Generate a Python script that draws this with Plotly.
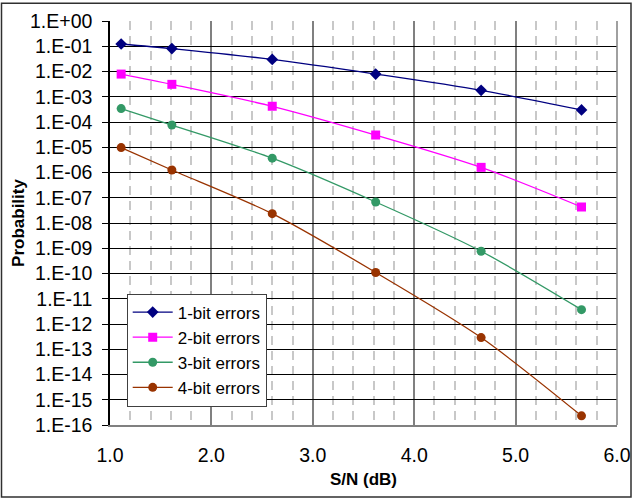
import plotly.graph_objects as go

# ---- data ----
snr_db = [1.11, 1.61, 2.60, 3.62, 4.66, 5.65]

series_names = ["1-bit errors", "2-bit errors", "3-bit errors", "4-bit errors"]
p_1bit = [1.23e-1, 8.1e-2, 3.0e-2, 7.9e-3, 1.8e-3, 3.0e-4]
p_2bit = [7.9e-3, 3.1e-3, 4.2e-4, 3.05e-5, 1.6e-6, 4.3e-8]
p_3bit = [3.4e-4, 7.6e-5, 3.7e-6, 6.8e-8, 7.6e-10, 3.7e-12]
p_4bit = [9.7e-6, 1.26e-6, 2.35e-8, 1.1e-10, 2.9e-13, 2.3e-16]

y_exponents = list(range(0, -17, -1))
y_tickvals = [10.0 ** e for e in y_exponents]
y_ticktext = ["1.E+00"] + ["1.E-%02d" % (-e) for e in y_exponents[1:]]
x_tickvals = [1.0, 2.0, 3.0, 4.0, 5.0, 6.0]
x_ticktext = ["1.0", "2.0", "3.0", "4.0", "5.0", "6.0"]

# ---- styling ----
FONT = "Arial, 'Liberation Sans', sans-serif"
colors = ["#000080", "#FF00FF", "#339966", "#993300"]
symbols = ["diamond", "square", "circle", "circle"]
msizes = [9, 9, 9, 9]

W, H = 632, 498
ML, MR, MT, MB = 110, 15, 21, 73
PW, PH = W - ML - MR, H - MT - MB

fig = go.Figure()
for name, vals, c, s, ms in zip(series_names, [p_1bit, p_2bit, p_3bit, p_4bit], colors, symbols, msizes):
    fig.add_trace(go.Scatter(
        x=snr_db, y=vals, name=name, mode="lines+markers",
        line=dict(color=c, width=1.3, shape="spline", smoothing=0.8),
        marker=dict(symbol=s, size=ms, color=c),
    ))

fig.update_layout(
    width=W, height=H,
    margin=dict(l=ML, r=MR, t=MT, b=MB, autoexpand=False),
    paper_bgcolor="white", plot_bgcolor="white",
    font=dict(family=FONT, color="black", size=19),
    showlegend=True,
    legend=dict(
        x=(126.7 - ML) / PW, y=(H - MB - 350) / PH, xanchor="left", yanchor="middle",
        bgcolor="white", bordercolor="#404040", borderwidth=1,
        font=dict(family=FONT, size=17, color="black"),
        tracegroupgap=0, itemwidth=40,
    ),
    xaxis=dict(
        range=[1, 6], tickvals=x_tickvals, ticktext=x_ticktext,
        showgrid=True, gridcolor="#808080", gridwidth=1.5,
        minor=dict(dtick=0.2, showgrid=True, gridcolor="#c8c8c8", gridwidth=1.5, griddash="9px,6px"),
        showline=True, linecolor="#808080", linewidth=1.5,
        ticks="", ticklabelstandoff=12, zeroline=False, automargin=False,
        tickfont=dict(size=19.5),
        title=dict(text="<b>S/N (dB)</b>", font=dict(size=17), standoff=8),
    ),
    xaxis2=dict(
        overlaying="x", side="top", range=[1, 6], anchor="y",
        showticklabels=False, showgrid=False, zeroline=False, automargin=False,
        ticks="inside", tickmode="linear", tick0=1, dtick=0.2, ticklen=4,
        tickcolor="black", tickwidth=1.5,
    ),
    yaxis=dict(
        type="log", range=[-16, 0], tickvals=y_tickvals, ticktext=y_ticktext,
        showgrid=True, gridcolor="black", gridwidth=1,
        showline=True, linecolor="black", linewidth=1.5,
        ticks="outside", ticklen=6, tickcolor="black", tickwidth=1,
        ticklabelstandoff=6, zeroline=False, automargin=False,
        tickfont=dict(size=19.5),
        title=dict(text="<b>Probability</b>", font=dict(size=17), standoff=1),
    ),
)

# right frame edge of the plot area (gray) and outer chart border
fig.add_shape(type="line", xref="x domain", yref="y domain", x0=1, x1=1, y0=0, y1=1,
              line=dict(color="#808080", width=1.5), layer="above")
fig.add_shape(type="rect", xref="paper", yref="paper",
              x0=(1.5 - ML) / PW, x1=(W - 1 - ML) / PW,
              y0=-(MB - 1) / PH, y1=1 + (MT - 3.3) / PH,
              line=dict(color="#303030", width=1.5), fillcolor="rgba(0,0,0,0)", layer="above")

fig.write_html("out.html", config={"displayModeBar": False},
               post_script="document.body.style.margin='0';")
